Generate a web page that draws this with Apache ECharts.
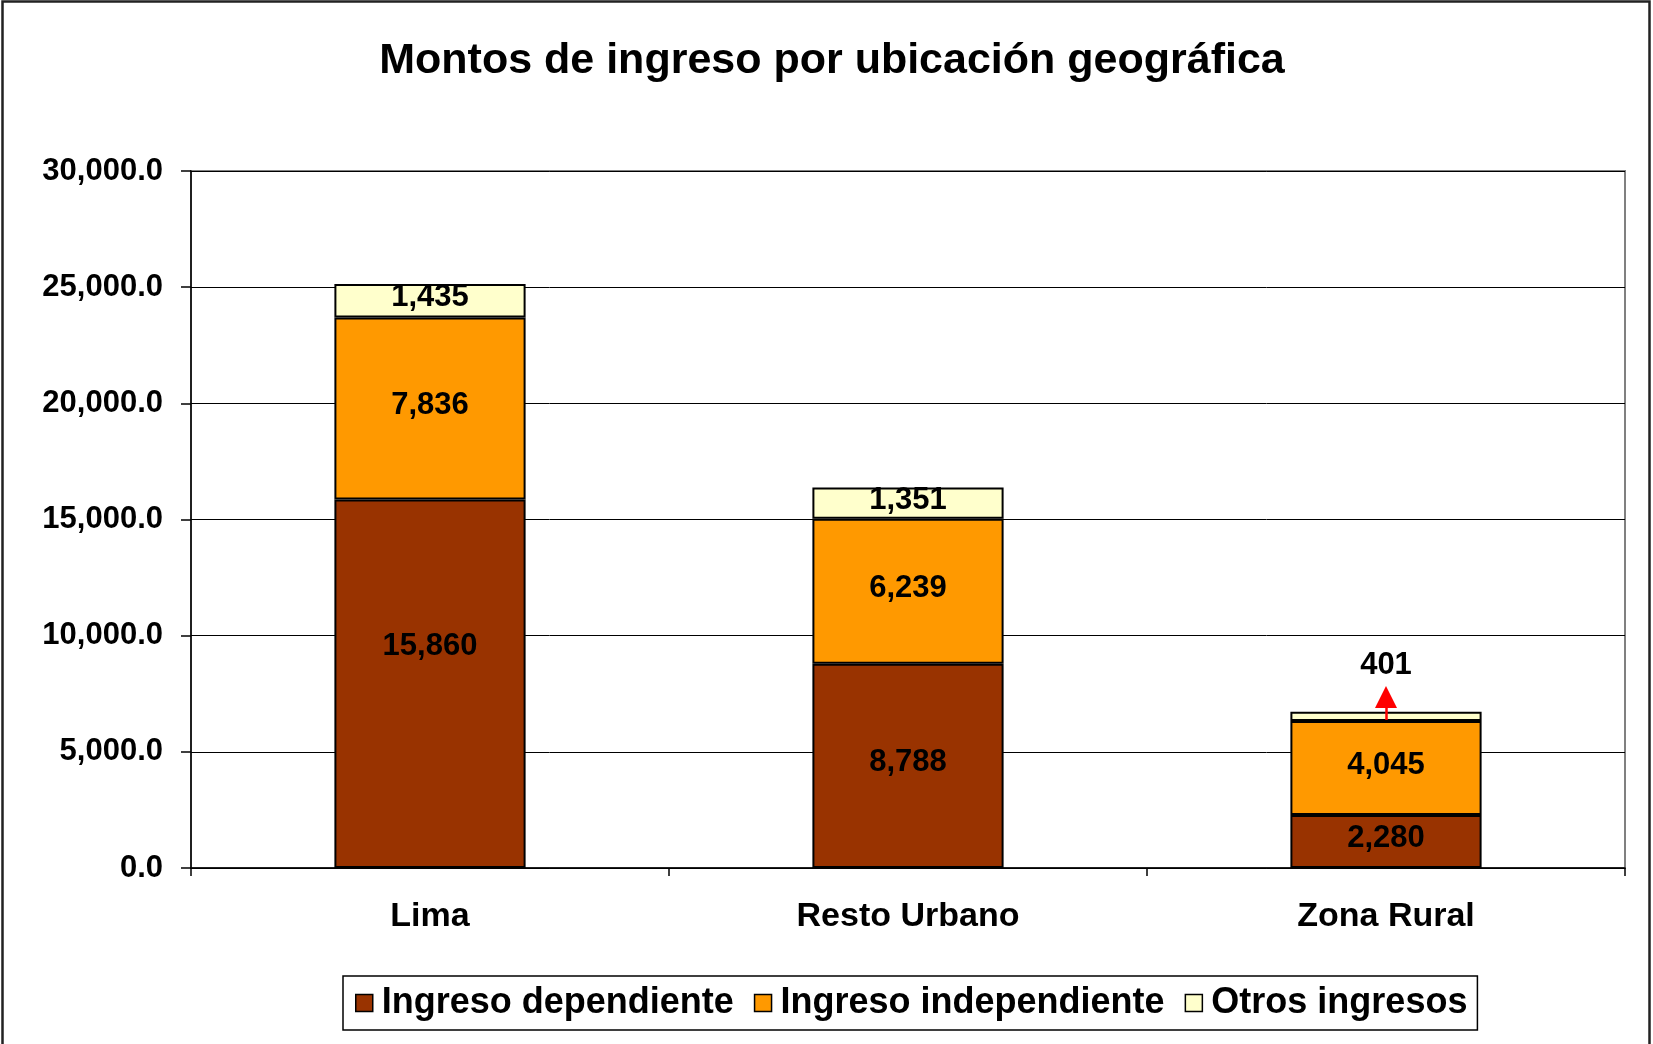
<!DOCTYPE html>
<html>
<head>
<meta charset="utf-8">
<script src="https://cdn.jsdelivr.net/npm/echarts@6/dist/echarts.min.js"></script>
<style>
html,body{margin:0;padding:0;background:#fff;}
#chart{width:1653px;height:1044px;}
</style>
</head>
<body>
<div id="chart"></div>
<script>
var categories = ['Lima', 'Resto Urbano', 'Zona Rural'];
var ingresoDependiente = [15860, 8788, 2280];
var ingresoIndependiente = [7836, 6239, 4045];
var otrosIngresos = [1435, 1351, 401];
var seriesNames = ['Ingreso dependiente', 'Ingreso independiente', 'Otros ingresos'];
var titleText = 'Montos de ingreso por ubicación geográfica';
var yMin = 0, yMax = 30000, yInterval = 5000;
// annotation arrow for Zona Rural "Otros ingresos" (value range in axis units)
var arrowFrom = 6370, arrowTo = 7360;

var FONT = '"Liberation Sans", Arial, sans-serif';
var fmtInt = function (v) { return Number(v).toLocaleString('en-US'); };

var labelBase = {
  show: true, position: 'inside', color: '#000', fontFamily: FONT,
  fontWeight: 'bold', fontSize: 31, offset: [0, -3],
  formatter: function (p) { return fmtInt(p.value); }
};

var depData = ingresoDependiente.map(function (v, i) {
  if (i === 0) return { value: v, label: { offset: [0, -37] } };
  return v;
});
var otrosData = otrosIngresos.map(function (v, i) {
  if (i === 2) return { value: v, label: { position: 'top', distance: 31, offset: [0, 0] } };
  return v;
});

var chart = echarts.init(document.getElementById('chart'), null, { renderer: 'canvas' });
chart.setOption({
  animation: false,
  backgroundColor: '#fff',
  title: {
    text: titleText, left: 827, textAlign: 'center', top: 35,
    textStyle: { fontFamily: FONT, fontWeight: 'bold', fontSize: 43, color: '#000' }
  },
  graphic: [{
    type: 'rect', silent: true, z: 100,
    shape: { x: 2.5, y: 1.5, width: 1647, height: 1100 },
    style: { fill: 'none', stroke: '#222', lineWidth: 2.5 }
  }],
  legend: {
    left: 343, top: 976,
    padding: [9, 10, 9, 12],
    borderColor: '#000', borderWidth: 1.5,
    itemWidth: 17, itemHeight: 17, itemGap: 20,
    icon: 'rect',
    itemStyle: { borderColor: '#000', borderWidth: 1.5 },
    textStyle: { fontFamily: FONT, fontWeight: 'bold', fontSize: 36, color: '#000', padding: [0, 0, 0, 4] },
    data: seriesNames
  },
  grid: {
    left: 191, right: 28, top: 171, bottom: 176,
    show: true, borderColor: '#808080', borderWidth: 2, backgroundColor: '#fff',
    containLabel: false
  },
  xAxis: {
    type: 'category', data: categories,
    axisLine: { lineStyle: { color: '#000', width: 1.5 } },
    axisTick: { show: true, alignWithLabel: false, length: 8, lineStyle: { color: '#000', width: 1.5 } },
    axisLabel: { margin: 32, color: '#000', fontFamily: FONT, fontWeight: 'bold', fontSize: 34 }
  },
  yAxis: {
    type: 'value', min: yMin, max: yMax, interval: yInterval,
    axisLine: { show: true, lineStyle: { color: '#000', width: 1.5 } },
    axisTick: { show: true, length: 10, lineStyle: { color: '#000', width: 1.5 } },
    splitLine: { show: true, lineStyle: { color: '#000', width: 1 } },
    axisLabel: {
      margin: 28, color: '#000', fontFamily: FONT, fontWeight: 'bold', fontSize: 31,
      formatter: function (v) { return Number(v).toLocaleString('en-US', { minimumFractionDigits: 1, maximumFractionDigits: 1 }); }
    }
  },
  series: [
    {
      name: seriesNames[0], type: 'bar', stack: 'total', barWidth: '40%',
      data: depData,
      itemStyle: { color: '#993300', borderColor: '#000', borderWidth: 2 },
      label: labelBase
    },
    {
      name: seriesNames[1], type: 'bar', stack: 'total', barWidth: '40%',
      data: ingresoIndependiente,
      itemStyle: { color: '#FF9900', borderColor: '#000', borderWidth: 2 },
      label: labelBase
    },
    {
      name: seriesNames[2], type: 'bar', stack: 'total', barWidth: '40%',
      data: otrosData,
      itemStyle: { color: '#FFFFCC', borderColor: '#000', borderWidth: 2 },
      label: labelBase,
      markLine: {
        silent: true, animation: false, z: 10,
        symbol: ['none', 'triangle'], symbolSize: 22,
        label: { show: false },
        lineStyle: { color: '#FF0000', width: 2.5, type: 'solid' },
        itemStyle: { color: '#FF0000' },
        data: [[
          { coord: [categories[2], arrowFrom] },
          { coord: [categories[2], arrowTo] }
        ]]
      }
    }
  ]
});
</script>
</body>
</html>
